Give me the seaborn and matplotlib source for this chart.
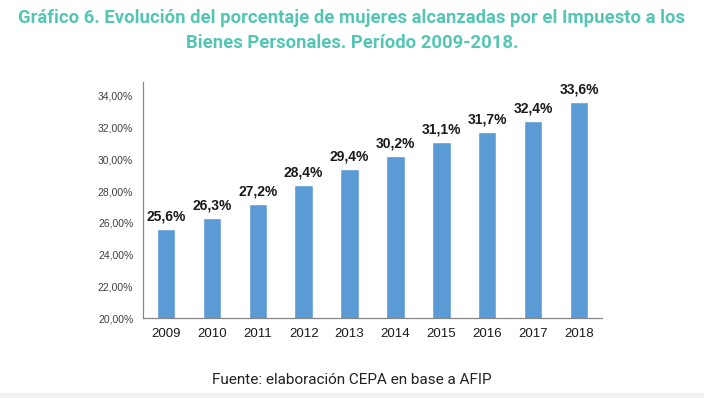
import numpy as np
import pandas as pd
import seaborn as sns
import matplotlib.pyplot as plt
from matplotlib.patches import Rectangle

# Data
years = ["2009", "2010", "2011", "2012", "2013", "2014", "2015", "2016", "2017", "2018"]
share = [25.6, 26.3, 27.2, 28.4, 29.4, 30.2, 31.1, 31.7, 32.4, 33.6]
labels = ["25,6%", "26,3%", "27,2%", "28,4%", "29,4%", "30,2%", "31,1%", "31,7%", "32,4%", "33,6%"]
y_ticks = [20, 22, 24, 26, 28, 30, 32, 34]

df = pd.DataFrame({"year": years, "share": share})

sns.set_theme(style="white")
plt.rcParams['font.family'] = ['Liberation Sans', 'DejaVu Sans']

fig = plt.figure(figsize=(7.04, 3.98), dpi=100)
ax = fig.add_axes([143 / 704, 1 - 318 / 398, 459 / 704, (318 - 82) / 398])

sns.barplot(data=df, x="year", y="share", color="#5b9bd5", width=0.4,
            saturation=1, ax=ax)

ax.set_ylim(20, 34.88)
ax.set_xlim(-0.5, 9.5)
ax.set_yticks(y_ticks)
ax.set_yticklabels([f"{t},00%" for t in y_ticks], fontsize=7.5, color="#404040")
ax.set_xlabel("")
ax.set_ylabel("")
ax.tick_params(axis="x", length=0, labelsize=9.5, labelcolor="#1a1a1a", pad=7)
ax.tick_params(axis="y", length=4, width=0.8, color="#868686", direction="out", pad=3)

# category-boundary tick marks on the x axis
ax.set_xticks(np.arange(-0.5, 10, 1), minor=True)
ax.tick_params(axis="x", which="minor", length=4, width=0.8, color="#868686", direction="out")

for side in ["top", "right"]:
    ax.spines[side].set_visible(False)
for side in ["left", "bottom"]:
    ax.spines[side].set_color("#868686")
    ax.spines[side].set_linewidth(0.9)

for i, (v, lab) in enumerate(zip(share, labels)):
    ax.text(i, v + 0.35, lab, ha="center", va="bottom", fontsize=10,
            fontweight="bold", color="#1a1a1a")

fig.text(0.5, 1 - 9 / 398, "Gráfico 6. Evolución del porcentaje de mujeres alcanzadas por el Impuesto a los\nBienes Personales. Período 2009-2018.",
         ha="center", va="top", fontsize=13.3, fontweight="bold", color="#55c6b4",
         family=["Roboto", "DejaVu Sans"], linespacing=1.5)

fig.text(0.5, 1 - 380 / 398, "Fuente: elaboración CEPA en base a AFIP", ha="center",
         va="center", fontsize=11, color="#222222", family=["Roboto", "DejaVu Sans"])

# light grey strip at the bottom edge
fig.patches.append(Rectangle((0, 0), 1, 5 / 398, transform=fig.transFigure,
                             facecolor="#f0f0f0", edgecolor="none"))

fig.savefig("out.png", dpi=100)
